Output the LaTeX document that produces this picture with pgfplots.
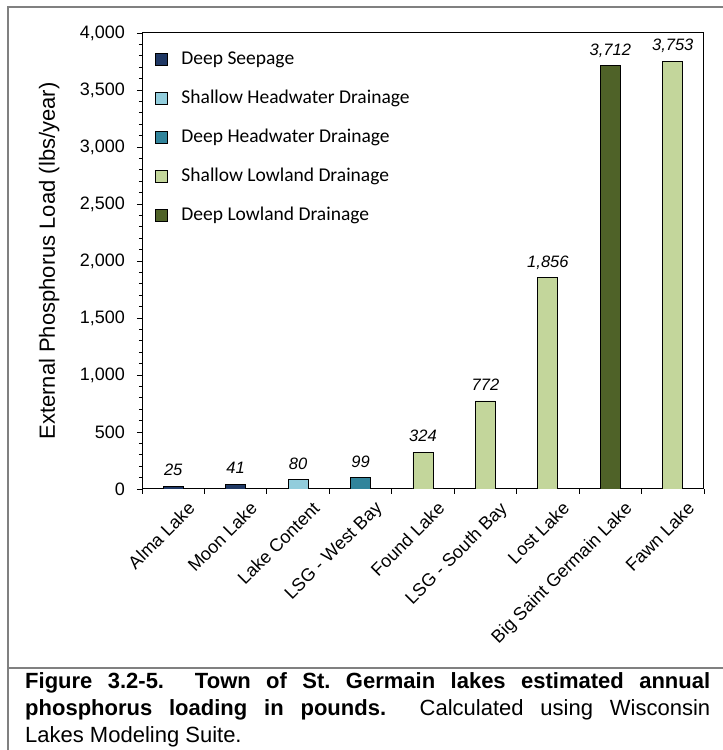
\documentclass[border=0pt]{standalone}
\usepackage{fontspec}
\setmainfont{Liberation Sans}
\newfontfamily\calibri{Carlito}
\usepackage{pgfplots}
\pgfplotsset{compat=1.18}

\definecolor{cDS}{RGB}{31,56,100}
\definecolor{cSH}{RGB}{146,205,220}
\definecolor{cDH}{RGB}{49,132,155}
\definecolor{cSL}{RGB}{195,214,155}
\definecolor{cDL}{RGB}{79,98,40}
\definecolor{framegray}{RGB}{128,128,128}

\begin{document}
\begin{tikzpicture}[x=1pt,y=1pt]
\useasboundingbox (0,0) rectangle (723,750);
\draw[framegray, line width=2pt] (8,0) -- (8,743) -- (723,743);
\draw[framegray, line width=2pt] (8,82) -- (723,82);
\begin{axis}[
  at={(142pt,261pt)}, anchor=south west,
  scale only axis, width=562pt, height=456pt,
  xmin=-0.5, xmax=8.5, ymin=0, ymax=4000,
  ybar, bar width=20pt,
  axis line style={black, line width=1pt},
  tick pos=left, tick align=outside,
  major tick length=5pt, minor tick length=3pt,
  tick style={black, line width=0.8pt},
  xtick={-0.5,0.5,...,8.5},
  x tick label as interval,
  xticklabels={Alma Lake,Moon Lake,Lake Content,LSG - West Bay,Found Lake,LSG - South Bay,Lost Lake,Big Saint Germain Lake,Fawn Lake},
  xticklabel style={rotate=45, anchor=north east, font=\fontsize{18}{18}\selectfont, inner sep=0pt, xshift=5pt, yshift=-14pt},
  ytick={0,500,...,4000}, minor y tick num=4,
  yticklabel style={font=\fontsize{18}{18}\selectfont, inner xsep=0pt, xshift=-12pt},
  /pgf/number format/.cd, 1000 sep={,}, assume math mode=true, /pgfplots/.cd,
  ylabel={External Phosphorus Load (lbs/year)},
  ylabel style={font=\fontsize{22}{22}\selectfont, at={(axis description cs:-0.165,0.5)}, anchor=center},
  nodes near coords,
  every node near coord/.append style={font=\itshape\fontsize{16.5}{16.5}\selectfont, text depth=0pt, inner ysep=0pt, yshift=10pt},
  legend image code/.code={\draw[#1, draw=black, line width=0.8pt] (0pt,-6.25pt) rectangle (12.5pt,6.25pt);},
  legend style={at={(axis description cs:0.0222,0.963)}, anchor=north west, draw=none, fill=none,
    font=\calibri\fontsize{19.5}{19.5}\selectfont, row sep=20pt, inner sep=0pt,
    nodes={inner xsep=3.5pt, inner ysep=0pt, text height=14pt, text depth=5pt},
    /tikz/every odd column/.append style={column sep=10pt}},
  legend cell align=left,
]
\addplot[bar shift=0pt, fill=cDS, draw=black, line width=0.8pt] coordinates {(0,25) (1,41)};
\addlegendentry{Deep Seepage}
\addplot[bar shift=0pt, fill=cSH, draw=black, line width=0.8pt] coordinates {(2,80)};
\addlegendentry{Shallow Headwater Drainage}
\addplot[bar shift=0pt, fill=cDH, draw=black, line width=0.8pt] coordinates {(3,99)};
\addlegendentry{Deep Headwater Drainage}
\addplot[bar shift=0pt, fill=cSL, draw=black, line width=0.8pt] coordinates {(4,324) (5,772) (6,1856) (8,3753)};
\addlegendentry{Shallow Lowland Drainage}
\addplot[bar shift=0pt, fill=cDL, draw=black, line width=0.8pt] coordinates {(7,3712)};
\addlegendentry{Deep Lowland Drainage}
\end{axis}
\node[anchor=north west, inner sep=0pt, text width=685pt, align=justify,
  font=\fontsize{22}{27}\selectfont] at (25,78)
  {{\bfseries Figure 3.2-5.\ \ Town of St.\ Germain lakes estimated annual\linebreak phosphorus loading in pounds.}\ \ Calculated using Wisconsin\linebreak Lakes Modeling Suite.};
\end{tikzpicture}
\end{document}
